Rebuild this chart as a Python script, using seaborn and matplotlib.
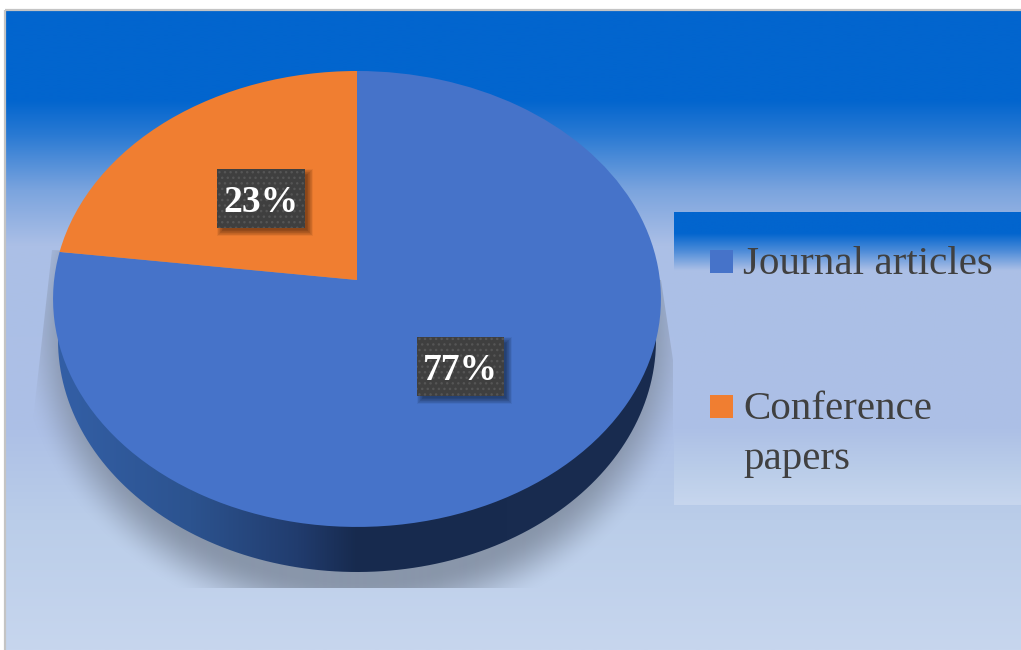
import numpy as np
import matplotlib
matplotlib.use("Agg")
import matplotlib.pyplot as plt
from matplotlib.colors import LinearSegmentedColormap
from matplotlib.patches import PathPatch, Polygon, Rectangle
from matplotlib.path import Path
from matplotlib.transforms import Transform
import seaborn as sns

# Publication types and their shares (percent)
categories = ["Journal articles", "Conference papers"]
legend_labels = ["Journal articles", "Conference\npapers"]
shares = [77, 23]
slice_colors = ["#4673C9", "#F07E31"]

W, H = 1021, 650
SERIF = ["Liberation Serif", "DejaVu Serif"]


class TiltedDisc(Transform):
    """Perspective view of a unit disc, returning figure pixels."""
    input_dims = output_dims = 2

    def __init__(self, apex, half_width, half_height, lean):
        super().__init__()
        self.apex, self.hw, self.hh, self.lean = apex, half_width, half_height, lean

    def transform_non_affine(self, values):
        values = np.asarray(values, dtype=float)
        d = 1 + self.lean * values[:, 1]
        return np.column_stack((self.apex[0] + self.hw * values[:, 0] / d,
                                self.apex[1] - self.hh * values[:, 1] / d))


def vertical_gradient(ax, extent, stops, zorder):
    """Fill a box with colours given as (pixel y, colour) pairs."""
    x0, x1, y0, y1 = extent
    ys = np.array([s[0] for s in stops], dtype=float)
    pos = (ys - y0) / (y1 - y0)
    cmap = LinearSegmentedColormap.from_list("v", list(zip(pos, [s[1] for s in stops])), N=512)
    grid = np.linspace(0, 1, 512)[:, None]
    return ax.imshow(grid, cmap=cmap, extent=(x0, x1, y1, y0), aspect="auto",
                     zorder=zorder, interpolation="bilinear", vmin=0, vmax=1)


def soft_shadow(ax, box, offset, spread, alpha, zorder):
    """Blurred drop shadow falling to the lower right of a box."""
    x0, y0, x1, y1 = box
    for s in np.linspace(spread, -2, 10):
        ax.add_patch(Rectangle((x0 + offset - s, y0 + offset - s),
                               x1 - x0 + 2 * s, y1 - y0 + 2 * s,
                               fc="black", ec="none", alpha=alpha, zorder=zorder))


sns.set_theme(style="white")
palette = sns.color_palette(slice_colors)

fig = plt.figure(figsize=(W / 100, H / 100), dpi=100, facecolor="white")
ax = fig.add_axes([0, 0, 1, 1])

# Chart area background and its thin grey frame
vertical_gradient(ax, (6, W, 11, H), [(11, "#0265CE"), (100, "#0265CE"), (135, "#2A7AD3"),
                                      (190, "#7BA4DE"), (245, "#ABBFE6"), (430, "#ADC0E6"),
                                      (520, "#BACDE9"), (650, "#C7D6EE")], 0)
ax.add_patch(Rectangle((5, 10), W, H, fc="none", ec="#C4C4C4", lw=1.6, zorder=1))

# Soft shadow cast by the disc, cut off along a slanted outline
yy, xx = np.mgrid[0:H, 0:W]
rad = np.hypot((xx - 357) / 340.0, (yy - 335) / 300.0)
fade = np.clip((1.0 - rad) / 0.18, 0, 1)
fade = fade * fade * (3 - 2 * fade)
shadow = np.zeros((H, W, 4))
shadow[..., :3] = matplotlib.colors.to_rgb("#7F8B9E")
shadow[..., 3] = fade * 0.84
shadow_img = ax.imshow(shadow, extent=(0, W, H, 0), aspect="auto", zorder=2,
                       interpolation="bilinear")
shadow_img.set_clip_path(Polygon([(52, 250), (33, 420), (33, 588), (673, 588),
                                  (673, 360), (661, 280)], transform=ax.transData))

# Rim of the disc: the lower half of an ellipse slightly narrower than the top face
RIM_CX, RIM_CY, RIM_RX, RIM_RY = 357, 340, 299, 232
t = np.linspace(np.pi, 0, 240)
rim = Path(np.column_stack((RIM_CX + RIM_RX * np.cos(t), RIM_CY + RIM_RY * np.sin(t))))
rim_cmap = LinearSegmentedColormap.from_list(
    "rim", [(0, "#335FA6"), (0.22, "#2C538F"), (0.40, "#213C6E"),
            (0.50, "#172A4E"), (1, "#192C50")])
rim_img = ax.imshow(np.linspace(0, 1, 512)[None, :], cmap=rim_cmap,
                    extent=(RIM_CX - RIM_RX, RIM_CX + RIM_RX, RIM_CY + RIM_RY, RIM_CY),
                    aspect="auto", zorder=3)
rim_img.set_clip_path(PathPatch(rim, transform=ax.transData))

# Top face: the slices drawn by pie() and viewed through the perspective transform
wedges, _ = ax.pie(shares, colors=palette, startangle=90, counterclock=False,
                   wedgeprops={"linewidth": 0, "zorder": 4})
view = TiltedDisc(apex=(357, 280), half_width=302.9, half_height=226.4, lean=0.0832)
for w in wedges:
    w.set_transform(view + ax.transData)

# Value labels on dark dotted plates
plate_boxes = [(417, 337, 504, 396), (217, 169, 305, 228)]
label_centres = [(460.5, 371), (261, 203)]
for value, box, (lx, ly) in zip(shares, plate_boxes, label_centres):
    x0, y0, x1, y1 = box
    soft_shadow(ax, box, 4, 4, 0.05, 5)
    ax.add_patch(Rectangle((x0, y0), x1 - x0, y1 - y0, fc="#3F3F3F", ec="none", zorder=6))
    ax.add_patch(Rectangle((x0, y0), x1 - x0, y1 - y0, fc="none", ec="#555555",
                           hatch="...", lw=0, zorder=7))
    ax.text(lx, ly, f"{value}%", color="white", ha="center", va="center", fontsize=27,
            fontweight="bold", family=SERIF, zorder=8)

# Legend panel
vertical_gradient(ax, (674, W, 212, 505), [(212, "#0265CE"), (233, "#0265CE"), (250, "#4A8AD8"),
                                           (270, "#ABBFE6"), (430, "#ADC0E6"), (470, "#BACDE9"),
                                           (505, "#C7D6EE")], 9)
legend_rows = [(261, 260), (406, 405)]
for label, colour, (sy, ty) in zip(legend_labels, palette, legend_rows):
    ax.add_patch(Rectangle((710, sy - 11.5), 23, 23, fc=colour, ec="none", zorder=10))
    ax.text(743, ty - 14, label, color="#404040", ha="left", va="top", fontsize=29.5,
            family=SERIF, linespacing=1.47, zorder=10)

ax.set_xlim(0, W)
ax.set_ylim(H, 0)
ax.set_aspect("auto")
ax.set_axis_off()

fig.savefig("out.png", dpi=100, facecolor="white")
